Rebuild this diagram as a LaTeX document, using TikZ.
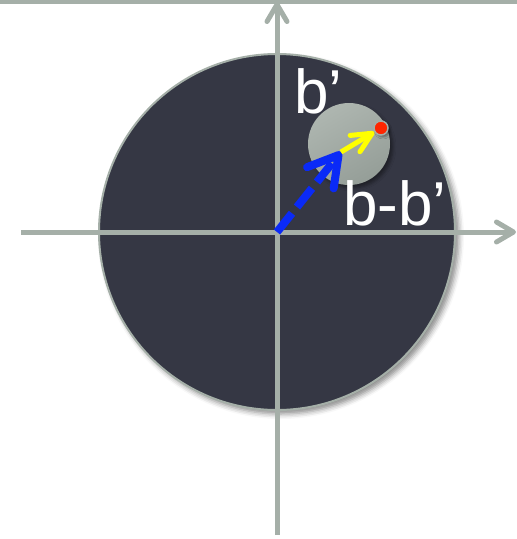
\documentclass[tikz,border=0pt]{standalone}
\usepackage{fontspec}
\setmainfont{Liberation Sans}
\usepackage{xcolor}
\usetikzlibrary{arrows.meta,shadows.blur}

\definecolor{axisgray}{HTML}{A5AFA8}
\definecolor{discdark}{HTML}{353744}
\definecolor{balllight}{HTML}{AEB6B0}
\definecolor{balldark}{HTML}{959E98}
\definecolor{vecblue}{HTML}{0A2AF7}
\definecolor{vecyellow}{HTML}{FFFF00}
\definecolor{dotred}{HTML}{FF2600}

\begin{document}
\begin{tikzpicture}[
  x=1pt, y=-1pt,
  axis/.style={line width=5pt, draw=axisgray, -{Straight Barb[length=17pt, width=20pt, round]}},
  disc/.style={circle, inner sep=0pt, minimum size=356pt, draw=axisgray, line width=2pt, fill=discdark,
    blur shadow={shadow xshift=4pt, shadow yshift=-4pt, shadow blur radius=5pt, shadow opacity=45}},
  ball/.style={circle, inner sep=0pt, minimum size=82pt, top color=balllight, bottom color=balldark, shading angle=30,
    blur shadow={shadow xshift=3pt, shadow yshift=-3pt, shadow blur radius=3pt, shadow opacity=40}},
  tipdot/.style={circle, inner sep=0pt, minimum size=14pt, fill=dotred, draw=axisgray, line width=1.5pt,
    blur shadow={shadow xshift=2pt, shadow yshift=-2pt, shadow blur radius=2pt, shadow opacity=40}},
  bluevec/.style={line width=8pt, draw=vecblue, dash pattern=on 24pt off 8pt, -{Straight Barb[length=29pt, width=34pt, round]}},
  yellowvec/.style={line width=5pt, draw=vecyellow, -{Straight Barb[length=20pt, width=19pt, round]}},
  lbl/.style={text=white, inner sep=0pt, anchor=base west, font=\fontsize{62}{64}\selectfont}
]
\useasboundingbox (0,0) rectangle (517,539);
% frame line on top
\draw[line width=4pt, draw=axisgray] (0,2) -- (517,2);

\node[disc] (big) at (277,232) {};
\coordinate (o) at (277,232);
\coordinate (west) at (21,232);
\coordinate (east) at (516,232);
\coordinate (south) at (277,535);
\coordinate (north) at (277,2);
\draw[axis] (west) -- (east);
\draw[axis] (south) -- (north);

\node[ball] (small) at (349,144) {};
\coordinate (mid) at (341,152);
\node[tipdot] (dot) at (381,128) {};

\draw[bluevec] (o) -- (mid);
\draw[yellowvec] (mid) -- (dot);

\node[lbl] (bp) at (294,113) {b’};
\node[lbl] (diff) at (343,225) {b-b’};
\end{tikzpicture}
\end{document}
